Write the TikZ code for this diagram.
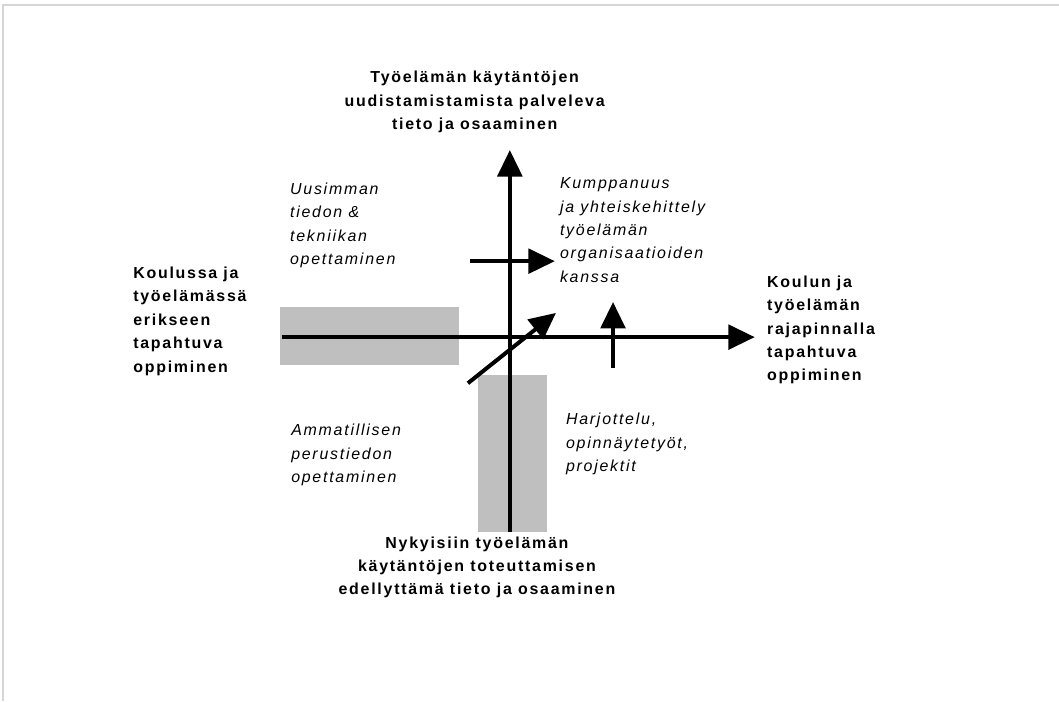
\documentclass[tikz,border=0pt]{standalone}
\usepackage{fontspec}
\setmainfont{Liberation Sans}[LetterSpace=11]
\usetikzlibrary{arrows.meta}
\definecolor{boxgray}{RGB}{191,191,191}
\definecolor{framegray}{RGB}{214,214,214}

\begin{document}
\begin{tikzpicture}[
    axisarrow/.style={line width=3pt, -{Triangle[length=7mm, width=6.5mm]}},
    boldtext/.style={font=\fontsize{12}{17.6}\selectfont\bfseries, inner sep=0pt},
    italtext/.style={font=\fontsize{12}{17.6}\selectfont\itshape, align=left, anchor=west, inner sep=0pt}
]
    % Keep the page size of the original
    \useasboundingbox (-13.49,-9.63) rectangle (14.53,8.92);

    % Faint page edge at the top and on the left
    \draw[framegray, line width=1.5pt] (14.53,8.78) -- (-13.41,8.78) -- (-13.41,-9.63);

    % Grey boxes behind the axes
    \fill[boxgray] (-6.09,-0.74) rectangle (-1.35,0.79);
    \fill[boxgray] (-0.85,-5.16) rectangle (0.98,-1.01);

    % End points of the axes and of the small arrows
    \coordinate (hstart) at (-6.03,0);
    \coordinate (hend) at (6.48,0);
    \coordinate (vstart) at (0,-5.16);
    \coordinate (vend) at (0,4.95);
    \coordinate (upperstart) at (-1.06,2.01);
    \coordinate (upperend) at (1.19,2.01);
    \coordinate (upstart) at (2.73,-0.82);
    \coordinate (upend) at (2.73,0.93);
    \coordinate (diagstart) at (-1.11,-1.22);
    \coordinate (diagend) at (1.22,0.64);

    % Axes
    \draw[axisarrow] (hstart) -- (hend);
    \draw[axisarrow] (vstart) -- (vend);

    % Small arrows
    \draw[axisarrow] (upperstart) -- (upperend);
    \draw[axisarrow] (upstart) -- (upend);
    \draw[axisarrow] (diagstart) -- (diagend);

    % Axis labels
    \node[boldtext, align=center] (toplabel) at (-0.93,6.22)
        {Työelämän käytäntöjen\\uudistamistamista palveleva\\tieto ja osaaminen};
    \node[boldtext, align=left, anchor=west] (leftlabel) at (-9.97,0.42)
        {Koulussa ja\\työelämässä\\erikseen\\tapahtuva\\oppiminen};
    \node[boldtext, align=left, anchor=west] (rightlabel) at (6.80,0.19)
        {Koulun ja\\työelämän\\rajapinnalla\\tapahtuva\\oppiminen};
    \node[boldtext, align=center] (bottomlabel) at (-0.87,-6.09)
        {Nykyisiin työelämän\\käytäntöjen toteuttamisen\\edellyttämä tieto ja osaaminen};

    % Quadrant texts
    \node[italtext] (newest) at (-5.82,2.96) {Uusimman\\tiedon \&\\tekniikan\\opettaminen};
    \node[italtext] (partner) at (1.32,2.83) {Kumppanuus\\ja yhteiskehittely\\työelämän\\organisaatioiden\\kanssa};
    \node[italtext] (practice) at (1.48,-2.83) {Harjottelu,\\opinnäytetyöt,\\projektit};
    \node[italtext] (basics) at (-5.79,-3.12) {Ammatillisen\\perustiedon\\opettaminen};
\end{tikzpicture}
\end{document}
